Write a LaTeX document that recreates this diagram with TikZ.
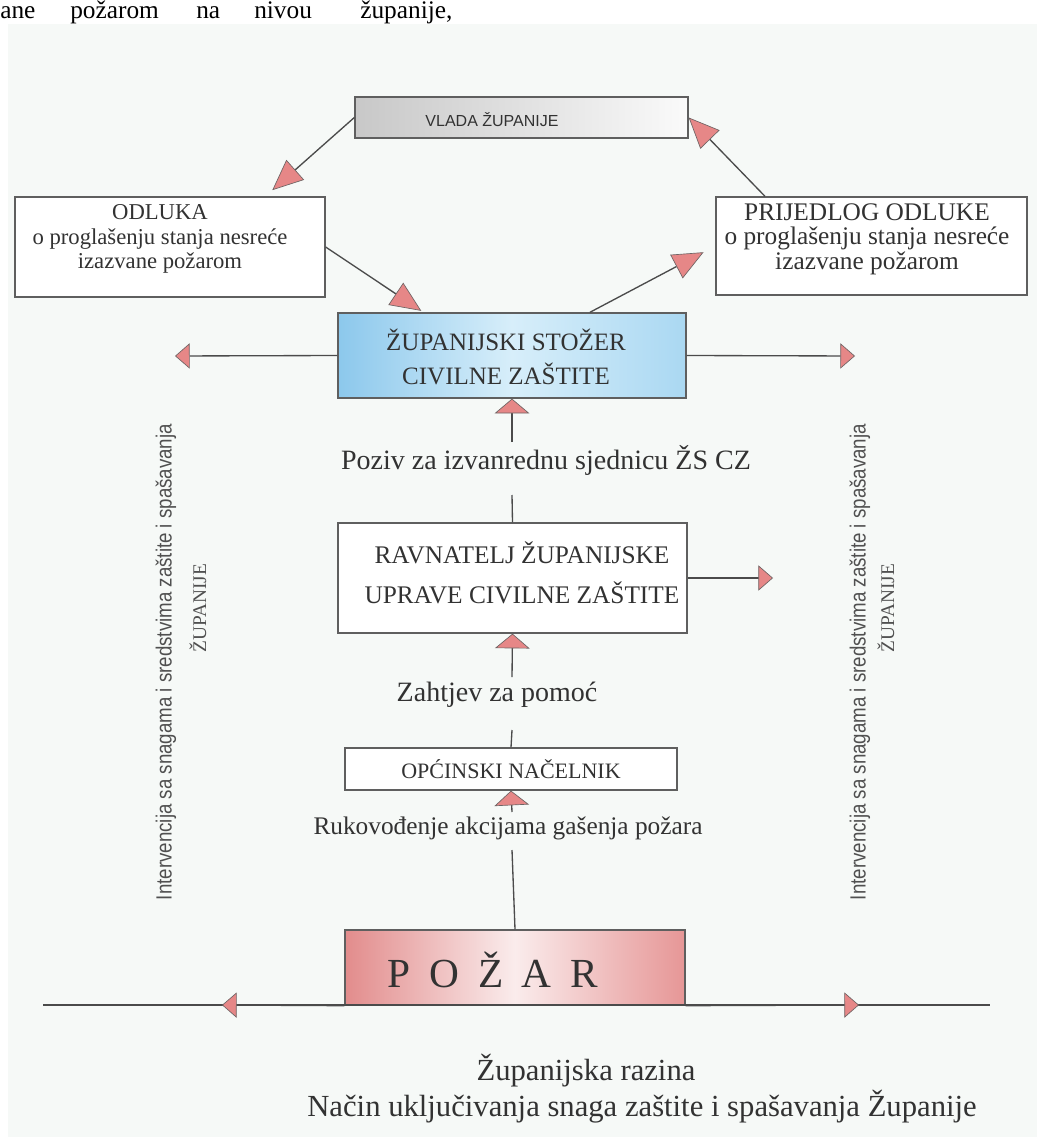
\documentclass[tikz,border=0pt]{standalone}
\usepackage{fontspec}
\setmainfont{Liberation Serif}
\newfontfamily\sansf{Liberation Sans}
\newfontfamily\narrowf[FakeStretch=0.85]{Liberation Sans}
\usetikzlibrary{arrows.meta}
\definecolor{bgtint}{RGB}{246,249,247}
\definecolor{boxgray}{RGB}{95,95,95}
\definecolor{linegray}{RGB}{75,75,75}
\definecolor{tippink}{RGB}{230,135,135}
\definecolor{tipgray}{RGB}{110,100,100}
\definecolor{txtgray}{RGB}{50,50,50}
\definecolor{sidegray}{RGB}{80,80,80}
\definecolor{blueL}{RGB}{140,200,236}
\definecolor{blueM}{RGB}{215,238,250}
\definecolor{blueR}{RGB}{170,216,242}
\definecolor{pinkL}{RGB}{226,140,140}
\definecolor{pinkM}{RGB}{250,236,236}
\definecolor{pinkR}{RGB}{230,150,150}
\definecolor{grayL}{RGB}{200,200,200}
\definecolor{grayR}{RGB}{250,250,250}
\tikzset{
  box/.style={draw=boxgray, line width=1pt, inner sep=0pt, fill=white},
  conn/.style={draw=linegray, line width=1pt},
  hup/.style={conn, -{Triangle[length=11pt,width=26pt,color=tipgray,fill=tippink,line width=0.5pt]}},
  hside/.style={conn, -{Triangle[length=11pt,width=19pt,color=tipgray,fill=tippink,line width=0.5pt]}},
  hdiag/.style={conn, -{Triangle[length=23pt,width=20pt,color=tipgray,fill=tippink,line width=0.5pt]}},
  lbl/.style={text=txtgray, inner sep=0pt, align=center},
  topword/.style={text=black, inner sep=0pt, anchor=base west, font=\fontsize{19pt}{22pt}\selectfont},
}
\begin{document}
\begin{tikzpicture}[x=0.75pt,y=-0.75pt]
\useasboundingbox (0,0) rectangle (1037,1137);
\fill[bgtint] (8,24) rectangle (1037,1137);

% line of text at the top, cut by the upper edge as in the scan
\node[topword] (w1) at (0,19) {ane};
\node[topword] (w2) at (70,19) {požarom};
\node[topword] (w3) at (196,19) {na};
\node[topword] (w4) at (254,19) {nivou};
\node[topword] (w5) at (360,19) {županije,};

% boxes
\node[box, left color=grayL, right color=grayR, minimum width=333*0.75pt, minimum height=41*0.75pt] (vlada) at (521.5,117.5) {};
\node[lbl, font=\sansf\fontsize{12pt}{14pt}\selectfont] (vladat) at (492,120) {VLADA ŽUPANIJE};

\node[box, minimum width=310*0.75pt, minimum height=100*0.75pt] (odluka) at (170,247) {};
\node[lbl, font=\fontsize{17pt}{18.4pt}\selectfont] (odlukat) at (160,239) {ODLUKA\\o proglašenju stanja nesreće\\izazvane požarom};

\node[box, minimum width=311*0.75pt, minimum height=98*0.75pt] (prijedlog) at (871.5,246) {};
\node[lbl, font=\fontsize{19pt}{18.4pt}\selectfont] (prijedlogt) at (867,239) {PRIJEDLOG ODLUKE\\o proglašenju stanja nesreće\\izazvane požarom};

\node[box, left color=blueL, right color=blueR, middle color=blueM, minimum width=348*0.75pt, minimum height=85*0.75pt] (zs) at (512,355.5) {};
\node[lbl, font=\fontsize{18.75pt}{26pt}\selectfont] (zst) at (506,357) {ŽUPANIJSKI STOŽER\\CIVILNE ZAŠTITE};

\node[box, minimum width=349*0.75pt, minimum height=110*0.75pt] (ravn) at (512.5,578) {};
\node[lbl, font=\fontsize{19pt}{30pt}\selectfont] (ravnt) at (522,573) {RAVNATELJ ŽUPANIJSKE\\UPRAVE CIVILNE ZAŠTITE};

\node[box, minimum width=332*0.75pt, minimum height=42*0.75pt] (opc) at (511,769) {};
\node[lbl, font=\fontsize{16.5pt}{18pt}\selectfont] (opct) at (511,769) {OPĆINSKI NAČELNIK};

\node[box, left color=pinkL, right color=pinkR, middle color=pinkM, minimum width=340*0.75pt, minimum height=75*0.75pt] (pozar) at (515,967.5) {};
\node[lbl, font=\fontsize{31pt}{33pt}\selectfont] (pozart) at (493,970) {P\kern14pt O\kern14pt Ž\kern14pt A\kern14pt R};

% labels on the central axis
\node[lbl, font=\fontsize{21pt}{23pt}\selectfont] (poziv) at (546,460) {Poziv za izvanrednu sjednicu ŽS CZ};
\node[lbl, font=\fontsize{21pt}{23pt}\selectfont] (zahtjev) at (497,695) {Zahtjev za pomoć};
\node[lbl, font=\fontsize{19pt}{21pt}\selectfont] (ruk) at (508,828) {Rukovođenje akcijama gašenja požara};

% side texts
\node[lbl, text=sidegray, rotate=90, font=\narrowf\fontsize{16.5pt}{18pt}\selectfont] (leftl) at (166,662) {Intervencija sa snagama i sredstvima zaštite i spašavanja};
\node[lbl, text=sidegray, rotate=90, font=\fontsize{14.5pt}{16pt}\selectfont] (leftz) at (198,608) {ŽUPANIJE};
\node[lbl, text=sidegray, rotate=90, font=\narrowf\fontsize{16.5pt}{18pt}\selectfont] (rightl) at (860,662) {Intervencija sa snagama i sredstvima zaštite i spašavanja};
\node[lbl, text=sidegray, rotate=90, font=\fontsize{14.5pt}{16pt}\selectfont] (rightz) at (886,608) {ŽUPANIJE};

% captions
\node[lbl, font=\fontsize{23pt}{25pt}\selectfont] (cap1) at (586,1071) {Županijska razina};
\node[lbl, font=\fontsize{23pt}{25pt}\selectfont] (cap2) at (642,1107) {Način uključivanja snaga zaštite i spašavanja Županije};

% free ends
\coordinate (p1) at (512,442);
\coordinate (p2) at (512,495);
\coordinate (p3) at (512,677);
\coordinate (p4) at (512,730);
\coordinate (p5) at (512,812);
\coordinate (p6) at (512,850);
\coordinate (zsl) at (175,356);
\coordinate (zsr) at (855,356);
\coordinate (rvr) at (773,578);
\coordinate (bl) at (43,1005);
\coordinate (br) at (990,1005);
\coordinate (bll) at (222,1005);
\coordinate (blr) at (859,1005);

% diagonal connectors
\draw[hdiag, shorten >=7pt] (vlada.west) -- (odluka.28);
\draw[hdiag, shorten >=2pt] (odluka.east) -- (zs.154);
\draw[hdiag, shorten >=10pt] (zs.29) -- (prijedlog.west);
\draw[hdiag] (prijedlog.155) -- (vlada.east);

% vertical chain
\draw[hup] (p1) -- (zs.south);
\draw[conn] (p2) -- (ravn.north);
\draw[hup] (p3) -- (ravn.south);
\draw[conn] (p4) -- (opc.north);
\draw[hup] (p5) -- (opc.south);
\draw[conn] (p6) -- (pozar.north);

% horizontal connectors
\draw[hside] (zs.west) -- (zsl);
\draw[hside] (zs.east) -- (zsr);
\draw[hside] (ravn.east) -- (rvr);
\draw[conn] (bl) -- (br);
\draw[hside] (pozar.south west) -- (bll);
\draw[hside] (pozar.south east) -- (blr);
\end{tikzpicture}
\end{document}
